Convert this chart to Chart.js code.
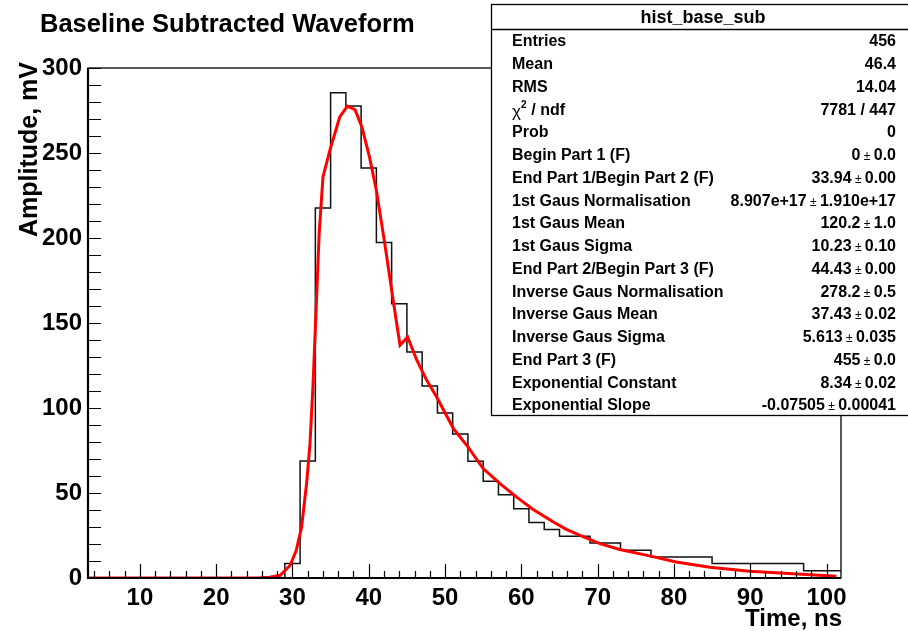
<!DOCTYPE html>
<html>
<head>
<meta charset="utf-8">
<script src="https://cdn.jsdelivr.net/npm/chart.js@4.4.1/dist/chart.umd.min.js"></script>
<style>
  html, body { margin: 0; padding: 0; background: #fff; }
  #wrap { width: 908px; height: 631px; position: relative; }
</style>
</head>
<body>
<div id="wrap"><canvas id="myChart"></canvas></div>
<script>
// histogram bins (2 ns wide), low edge in ns and content in mV
const binLowEdges = [3, 5, 7, 9, 11, 13, 15, 17, 19, 21, 23, 25, 27, 29, 31, 33, 35, 37, 39, 41,
  43, 45, 47, 49, 51, 53, 55, 57, 59, 61, 63, 65, 67, 69, 71, 73, 75, 77, 79, 81,
  83, 85, 87, 89, 91, 93, 95, 97, 99, 101];
const binWidth = 2;
const binValues = [0, 0, 0, 0, 0, 0, 0, 0, 0, 0, 0, 0, 0, 8.5, 68.8, 217.6, 285.5, 277.6, 241.2, 197.3,
  161.3, 133, 112.9, 97, 84.7, 68.7, 56.9, 48.9, 40.7, 32.6, 28.6, 24.6, 24.6, 20.6, 20.6, 16.3, 16.3, 12.4, 12.4, 12.4,
  12.4, 8.5, 8.5, 8.5, 8.5, 8.5, 8.5, 4.3, 4.3, 4.3];

// fit curve
const fitTimes = [3.2, 25.5, 27.0, 28.4, 29.7, 30.5, 31.2, 31.85, 32.3, 32.7, 33.06, 33.5, 34.0, 34.9, 36.2, 37.2,
  38.2, 39.1, 40.1, 41.0, 42.1, 43.2, 44.1, 45.1, 46.3, 47.6, 48.9, 51.1, 53.0, 55.0, 57.2, 59.4, 61.5,
  64.2, 65.9, 67.7, 70.3, 72.9, 76.8, 80.3, 84.7, 89.9, 95.6, 101.3];
const fitValues = [0, 0, 0.4, 1.6, 7.5, 16.3, 30, 55.5, 79, 114, 153.5, 202.6, 235.9, 251.6, 271.2, 277.6,
  275.5, 265.3, 247.6, 228, 196.7, 163.4, 136.9, 141.8, 128.1, 116.3, 106.5, 87.9, 77.1, 64.4, 55.5, 47.6, 40.5,
  32.9, 28.6, 25.1, 20.2, 16.8, 13.0, 9.4, 6.3, 4.0, 2.5, 1.0];

const xTickLabels = [10, 20, 30, 40, 50, 60, 70, 80, 90, 100];
const yTickLabels = [0, 50, 100, 150, 200, 250, 300];

const statsTitle = 'hist_base_sub';
const statsNames = ['Entries', 'Mean', 'RMS', 'CHI2', 'Prob', 'Begin Part 1 (F)', 'End Part 1/Begin Part 2 (F)',
  '1st Gaus Normalisation', '1st Gaus Mean', '1st Gaus Sigma', 'End Part 2/Begin Part 3 (F)',
  'Inverse Gaus Normalisation', 'Inverse Gaus Mean', 'Inverse Gaus Sigma', 'End Part 3 (F)',
  'Exponential Constant', 'Exponential Slope'];
const statsValues = ['456', '46.4', '14.04', '7781 / 447', '0', '0', '33.94', '8.907e+17', '120.2', '10.23',
  '44.43', '278.2', '37.43', '5.613', '455', '8.34', '-0.07505'];
const statsErrors = [null, null, null, null, null, '0.0', '0.00', '1.910e+17', '1.0', '0.10', '0.00',
  '0.5', '0.02', '0.035', '0.0', '0.02', '0.00041'];

const FONT = '"Liberation Sans", Arial, Helvetica, sans-serif';

const histData = binLowEdges.map((e, i) => ({ x: e, y: binValues[i] }));
histData.push({ x: binLowEdges[binLowEdges.length - 1] + binWidth, y: binValues[binValues.length - 1] });
const fitData = fitTimes.map((t, i) => ({ x: t, y: fitValues[i] }));

const rootStyle = {
  id: 'rootStyle',
  afterDatasetsDraw(chart) {
    const { ctx, chartArea: a, scales: { x, y } } = chart;
    ctx.save();
    ctx.strokeStyle = '#000';
    ctx.fillStyle = '#000';

    // tick marks inside the frame
    ctx.lineWidth = 1.2;
    ctx.beginPath();
    for (let v = 0; v <= 300; v += 10) {
      const py = Math.round(y.getPixelForValue(v)) + 0.5;
      ctx.moveTo(a.left, py);
      ctx.lineTo(a.left + 13, py);
    }
    for (let v = 4; v <= 100; v += 2) {
      const px = Math.round(x.getPixelForValue(v)) + 0.5;
      const len = v % 10 === 0 ? 14 : 7;
      ctx.moveTo(px, a.bottom);
      ctx.lineTo(px, a.bottom - len);
    }
    ctx.stroke();

    // frame
    ctx.lineWidth = 1.3;
    ctx.strokeRect(a.left, a.top, a.right - a.left, a.bottom - a.top);
    ctx.lineWidth = 2.2;
    ctx.beginPath();
    ctx.moveTo(a.left, a.top);
    ctx.lineTo(a.left, a.bottom);
    ctx.lineTo(a.right, a.bottom);
    ctx.stroke();

    // titles
    ctx.textBaseline = 'middle';
    ctx.textAlign = 'left';
    ctx.font = 'bold 25.5px ' + FONT;
    ctx.fillText('Baseline Subtracted Waveform', 40, 25);
    ctx.font = 'bold 24px ' + FONT;
    ctx.textAlign = 'right';
    ctx.fillText('Time, ns', 842, 619);
    ctx.save();
    ctx.translate(30, 62);
    ctx.rotate(-Math.PI / 2);
    ctx.font = 'bold 25px ' + FONT;
    ctx.textAlign = 'right';
    ctx.fillText('Amplitude, mV', 0, 0);
    ctx.restore();

    // stats box
    const bx = 491.5, by = 4.5, bw = 430, bh = 411;
    ctx.fillStyle = '#fff';
    ctx.fillRect(bx, by, bw, bh);
    ctx.lineWidth = 1.3;
    ctx.strokeRect(bx, by, bw, bh);
    ctx.beginPath();
    ctx.moveTo(bx, 29.5);
    ctx.lineTo(908, 29.5);
    ctx.stroke();
    ctx.fillStyle = '#000';
    ctx.font = 'bold 18px ' + FONT;
    ctx.textAlign = 'center';
    ctx.fillText(statsTitle, 703, 18);

    const rx = 896, lx = 512;
    statsNames.forEach((name, i) => {
      const ry = 42 + i * 22.75;
      ctx.textAlign = 'left';
      if (name === 'CHI2') {
        ctx.font = '17px ' + FONT;
        ctx.fillText('\u03C7', lx, ry + 2);
        const w = ctx.measureText('\u03C7').width;
        ctx.font = 'bold 10px ' + FONT;
        ctx.fillText('2', lx + w, ry - 5);
        ctx.font = 'bold 16px ' + FONT;
        ctx.fillText(' / ndf', lx + w + 6, ry);
      } else {
        ctx.font = 'bold 16px ' + FONT;
        ctx.fillText(name, lx, ry);
      }
      ctx.textAlign = 'right';
      ctx.font = 'bold 16px ' + FONT;
      const err = statsErrors[i];
      if (err === null) {
        ctx.fillText(statsValues[i], rx, ry);
      } else {
        ctx.fillText(err, rx, ry);
        let px = rx - ctx.measureText(err).width;
        ctx.font = '12px ' + FONT;
        const pm = ' \u00B1 ';
        ctx.fillText(pm, px, ry + 1);
        px -= ctx.measureText(pm).width;
        ctx.font = 'bold 16px ' + FONT;
        ctx.fillText(statsValues[i], px, ry);
      }
    });
    ctx.restore();
  }
};

const ctx = document.getElementById('myChart');
const myChart = new Chart(ctx, {
  type: 'line',
  data: {
    datasets: [
      {
        label: 'hist_base_sub',
        data: histData,
        stepped: true,
        borderColor: '#111',
        borderWidth: 1.5,
        pointRadius: 0,
        fill: false,
        order: 2
      },
      {
        label: 'fit',
        data: fitData,
        borderColor: '#ff0000',
        borderWidth: 3,
        tension: 0,
        pointRadius: 0,
        fill: false,
        order: 1
      }
    ]
  },
  options: {
    responsive: true,
    maintainAspectRatio: false,
    animation: false,
    events: [],
    layout: { padding: { top: 68, right: 67, bottom: 0, left: 0 } },
    plugins: {
      legend: { display: false },
      tooltip: { enabled: false },
      title: { display: false }
    },
    scales: {
      x: {
        type: 'linear',
        min: 3.2,
        max: 101.9,
        afterBuildTicks: (scale) => { scale.ticks = xTickLabels.map(v => ({ value: v })); },
        afterFit: (scale) => { scale.height = 53; },
        grid: { display: false, drawTicks: false },
        border: { display: false },
        ticks: {
          padding: 6,
          color: '#000',
          maxRotation: 0,
          autoSkip: false,
          font: { family: FONT, size: 24, weight: 'bold' }
        }
      },
      y: {
        type: 'linear',
        min: 0,
        max: 300,
        afterBuildTicks: (scale) => { scale.ticks = yTickLabels.map(v => ({ value: v })); },
        afterFit: (scale) => { scale.width = 88; },
        grid: { display: false, drawTicks: false },
        border: { display: false },
        ticks: {
          padding: 6,
          color: '#000',
          autoSkip: false,
          font: { family: FONT, size: 24, weight: 'bold' }
        }
      }
    }
  },
  plugins: [rootStyle]
});
</script>
</body>
</html>
